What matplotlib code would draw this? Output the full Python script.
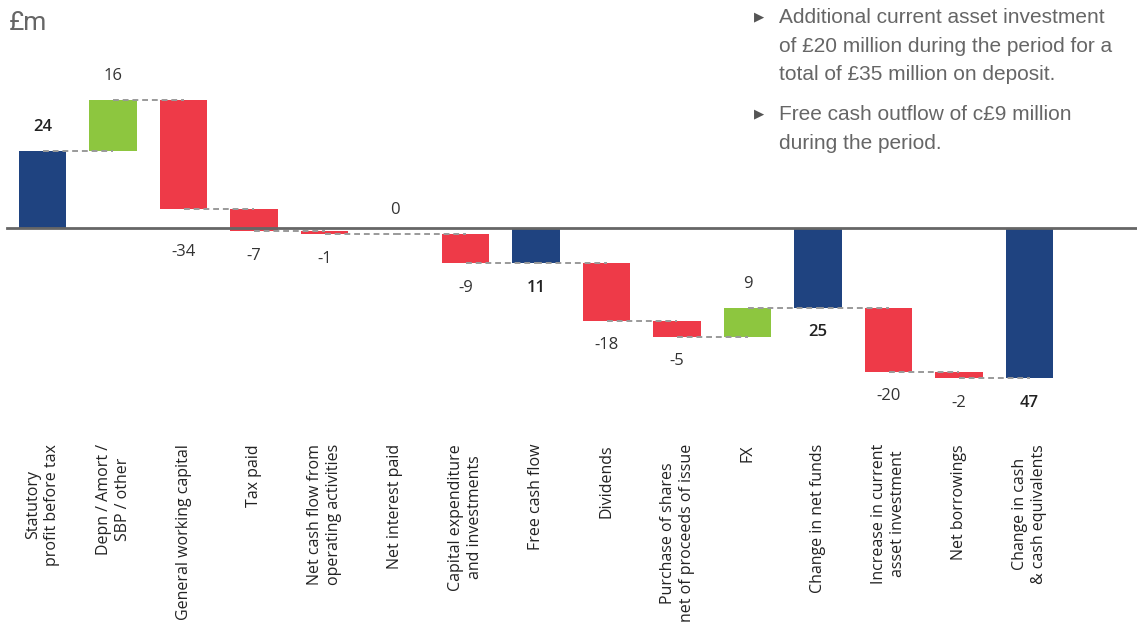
import numpy as np
import matplotlib.pyplot as plt

# Waterfall data (£m)
categories = ['Statutory\nprofit before tax', 'Depn / Amort /\nSBP / other', 'General working capital',
              'Tax paid', 'Net cash flow from\noperating activities', 'Net interest paid',
              'Capital expenditure\nand investments', 'Free cash flow', 'Dividends',
              'Purchase of shares\nnet of proceeds of issue', 'FX', 'Change in net funds',
              'Increase in current\nasset investment', 'Net borrowings',
              'Change in cash\n& cash equivalents']
# for total bars the value is the level, otherwise it's the step
values = [24, 16, -34, -7, -1, 0, -9, -11, -18, -5, 9, -25, -20, -2, -47]
is_total = [True, False, False, False, False, False, False, True,
            False, False, False, True, False, False, True]
notes = ['Additional current asset investment\nof £20 million during the period for a\ntotal of £35 million on deposit.',
         'Free cash outflow of c£9 million\nduring the period.']

navy = '#1F4380'
green = '#8DC63F'
red = '#EE3A48'
grey = '#666666'

W, H = 1137, 626
fig = plt.figure(figsize=(W / 100, H / 100), dpi=100)
ax = fig.add_axes([0, 0, 1, 1])
ax.axis('off')

# map pixels -> data: bar centres every 70.5px starting at 42.5, zero at y=228, 3.2px per £m
px0, step, y0, ppu = 42.5, 70.5, 228, 3.2
ax.set_xlim((0 - px0) / step, (W - px0) / step)
ax.set_ylim((y0 - H) / ppu, y0 / ppu)

def px_x(p):
    return (p - px0) / step

def px_y(p):
    return (y0 - p) / ppu

# running totals
bottoms, ends = [], []
level = 0
for v, t in zip(values, is_total):
    if t:
        b, e = 0, v
        level = v
    else:
        b, e = level, level + v
        level = e
    bottoms.append(b)
    ends.append(e)

x = np.arange(len(values))
colors = []
for v, t in zip(values, is_total):
    if t:
        colors.append(navy)
    elif v >= 0:
        colors.append(green)
    else:
        colors.append(red)

heights = [e - b for b, e in zip(bottoms, ends)]
ax.bar(x, heights, bottom=bottoms, width=0.667, color=colors, zorder=2)

# zero line
ax.plot([px_x(7), px_x(W)], [0, 0], color=grey, lw=2, zorder=3)

# dashed connectors centre-to-centre
for i in range(len(values) - 1):
    ax.plot([x[i], x[i + 1]], [ends[i], ends[i]], color='#9a9a9a', lw=1.4,
            ls=(0, (3, 2)), zorder=4)

# value labels
for i, v in enumerate(values):
    lo = min(bottoms[i], ends[i])
    hi = max(bottoms[i], ends[i])
    if is_total[i]:
        txt = str(abs(v))
        weight = 'semibold'
        col = '#222222'
    else:
        txt = str(v)
        weight = 'normal'
        col = '#333333'
    if v >= 0:
        ypos = hi
        off = 17.5
    else:
        ypos = min(lo, 0)
        off = -17.5
    ax.annotate(txt, (x[i], ypos), xytext=(0, off), textcoords='offset points',
                ha='center', va='center', fontsize=12, color=col,
                fontweight=weight, family='Open Sans')

# category labels
for i, c in enumerate(categories):
    ax.text(x[i], px_y(444), c, rotation=90, ha='center', va='top',
            multialignment='center', fontsize=11.5, color='#222222',
            family='Open Sans', linespacing=1.25)

# units
ax.text(px_x(9), px_y(23), '£m', fontsize=19, color=grey, va='center', ha='left',
        family='Roboto')

# commentary
note_y = [17, 114]
for n, yy in zip(notes, note_y):
    ax.text(px_x(754), px_y(yy), '▶', fontsize=9.5, color='#555555',
            va='center', ha='left', family='DejaVu Sans')
    ax.text(px_x(779), px_y(yy - 9), n, fontsize=15, color=grey, va='top', ha='left',
            family='Liberation Sans', linespacing=1.64)

fig.savefig('out.png', dpi=100)
